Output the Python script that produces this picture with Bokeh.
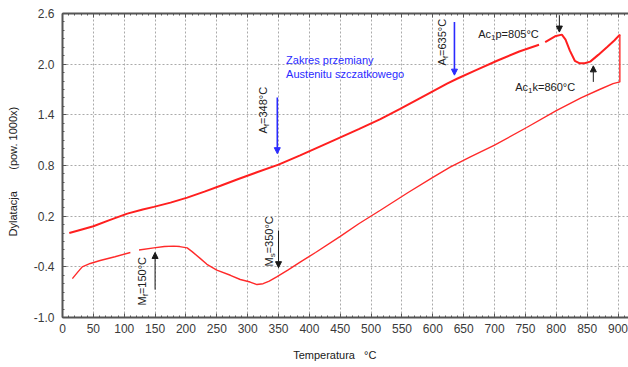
import math
from bokeh.plotting import figure
from bokeh.models import (Range1d, LinearAxis, FixedTicker, PrintfTickFormatter,
                          Label, Arrow, NormalHead, ColumnDataSource, Grid)
from bokeh.embed import file_html
from bokeh.resources import INLINE

nan = float("nan")

# ---- data ----
heat_temp = [11, 30, 50, 75, 105, 130, 148, 175, 202, 230, 256, 285, 315, 350, 385, 434, 480, 515, 547, 590,
             623, 640, 670, 704, 740, 772, nan, 782, 798, 809, 815, 822, 830, 838, 846, 855, 868, 882, 894, 903]
heat_dil = [0.00, 0.04, 0.08, 0.15, 0.23, 0.28, 0.31, 0.36, 0.42, 0.49, 0.56, 0.64, 0.72, 0.81, 0.92, 1.08, 1.23, 1.35, 1.47, 1.64,
            1.77, 1.83, 1.93, 2.04, 2.15, 2.23, nan, 2.26, 2.33, 2.35, 2.29, 2.16, 2.04, 2.01, 2.01, 2.03, 2.11, 2.20, 2.28, 2.35]

cool_temp = [903, 903, 892, 870, 840, 800, 752, 700, 660, 628, 600, 560, 515, 480, 450, 410, 385, 365, 347, 335,
             325, 315, 304, 288, 272, 250, 234, 223, 210, 202, 190, 180, 165, 148, 124, nan, 110, 85, 61, 45,
             32, 25, 16]
cool_dil = [2.35, 1.79, 1.77, 1.70, 1.60, 1.45, 1.25, 1.04, 0.90, 0.78, 0.66, 0.48, 0.27, 0.11, -0.04, -0.23, -0.345, -0.44, -0.52, -0.57,
            -0.60, -0.61, -0.58, -0.55, -0.50, -0.44, -0.37, -0.30, -0.22, -0.175, -0.16, -0.155, -0.16, -0.175, -0.20, nan, -0.23, -0.28, -0.325, -0.36,
            -0.40, -0.46, -0.54]

x_ticks = list(range(0, 901, 50))
x_minor = list(range(0, 918, 10))
y_ticks = [-1.0, -0.4, 0.2, 0.8, 1.4, 2.0, 2.6]
y_minor = [round(-1.0 + 0.1 * i, 1) for i in range(37)]

# annotation temperatures
t_af1, t_af2, t_ac1p, t_ac1k, t_ms, t_mf = 348, 635, 805, 860, 350, 150

FONT = "Liberation Sans"
AXC = "#555555"
NB = "\u00a0"

p = figure(width=628, height=367, x_range=Range1d(0, 917), y_range=Range1d(-1.0, 2.6),
           output_backend="svg", toolbar_location=None,
           min_border_left=62, min_border_right=0, min_border_top=13, min_border_bottom=50)
p.outline_line_color = None
p.background_fill_color = "white"
p.border_fill_color = "white"

xt = FixedTicker(ticks=x_ticks, minor_ticks=x_minor)
yt = FixedTicker(ticks=y_ticks, minor_ticks=y_minor)


def style_axis(ax):
    ax.axis_line_color = AXC
    ax.axis_line_width = 2
    ax.major_tick_line_color = AXC
    ax.minor_tick_line_color = AXC
    ax.major_tick_in = 4
    ax.major_tick_out = 0
    ax.minor_tick_in = 2
    ax.minor_tick_out = 0
    ax.major_label_text_font = FONT
    ax.major_label_text_font_size = "12px"
    ax.major_label_text_color = "#3a3a3a"
    ax.axis_label_text_font = FONT
    ax.axis_label_text_font_size = "11px"
    ax.axis_label_text_font_style = "normal"
    ax.axis_label_text_color = "#202020"


xa = p.xaxis[0]
xa.ticker = xt
style_axis(xa)
xa.major_label_standoff = 6
xa.axis_label = "Temperatura" + NB * 3 + "°C" + NB * 7
xa.axis_label_standoff = 13

ya = p.yaxis[0]
ya.ticker = yt
ya.formatter = PrintfTickFormatter(format="%.1f")
style_axis(ya)
ya.major_label_standoff = 8
ya.axis_label = "Dylatacja" + NB * 7 + "(pow. 1000x)" + NB * 4
ya.axis_label_standoff = 12

top = LinearAxis(ticker=xt)
style_axis(top)
top.major_label_text_font_size = "1px"
top.major_label_text_color = None
top.major_label_standoff = 0
p.add_layout(top, "above")

# grids: replace default ones with explicit grids on the fixed tickers
p.renderers = [r for r in p.renderers if not isinstance(r, Grid)]
p.center = [c for c in p.center if not isinstance(c, Grid)]
for dim, tk in ((0, xt), (1, yt)):
    g = Grid(dimension=dim, ticker=tk, grid_line_color="#aaaaaa", grid_line_dash="2 2",
             grid_line_width=1, level="underlay")
    p.add_layout(g, "center")

# curves
p.line(x="t", y="d", source=ColumnDataSource(dict(t=heat_temp, d=heat_dil)),
       line_color="#ff1f1f", line_width=2)
p.line(x="t", y="d", source=ColumnDataSource(dict(t=cool_temp, d=cool_dil)),
       line_color="#ff2a2a", line_width=1.4)

# ---- annotations ----
W = {"A": 667, "c": 500, "p": 556, "k": 500, "M": 833, "f": 278, "s": 500, "=": 584,
     "°": 400, "C": 722}


def tw(s, size):
    return sum(W.get(ch, 556) for ch in s) * size / 1000.0


def lab(x, y, text, size=11, color="#202020", angle=0.0, dx=0, dy=0, align="left", baseline="middle"):
    p.add_layout(Label(x=x, y=y, text=text, x_offset=dx, y_offset=dy, angle=angle,
                       text_font=FONT, text_font_size=f"{size}px", text_color=color,
                       text_align=align, text_baseline=baseline))


def sub_lab(x, y, main, sub, rest, color="#202020", rotated=False):
    wm = tw(main, 11)
    ws = tw(sub, 8)
    if not rotated:
        lab(x, y, main, color=color)
        lab(x, y, sub, size=8, color=color, dx=wm, dy=-4)
        lab(x, y, rest, color=color, dx=wm + ws)
    else:
        a = math.pi / 2
        lab(x, y, main, color=color, angle=a)
        lab(x, y, sub, size=8, color=color, angle=a, dx=3.5, dy=wm)
        lab(x, y, rest, color=color, angle=a, dy=wm + ws)


BLUE = "#2a2aff"
BLACK = "#1a1a1a"


def arrow(x, y0, y1, color, width):
    p.add_layout(Arrow(x_start=x, y_start=y0, x_end=x, y_end=y1, line_color=color, line_width=width,
                       end=NormalHead(size=6, fill_color=color, line_color=color, line_width=1)))


# blue range text
lab(362.3, 2.055, "Zakres przemiany", color=BLUE)
lab(362.3, 1.889, "Austenitu szczatkowego", color=BLUE)

# blue arrows + rotated labels
arrow(t_af1, 1.605, 0.94, BLUE, 1.6)
sub_lab(325, 1.179, "A", "f", f"={t_af1}°C", rotated=True)
arrow(t_af2, 2.50, 1.87, BLUE, 1.6)
sub_lab(614.7, 1.984, "A", "f", f"={t_af2}°C", rotated=True)

# black arrows
arrow(t_ac1p, 2.58, 2.38, BLACK, 1)
sub_lab(673.5, 2.363, "Ac", "1", f"p={t_ac1p}°C")
arrow(t_ac1k, 1.79, 1.98, BLACK, 1)
sub_lab(733.5, 1.735, "Ac", "1", f"k={t_ac1k}°C")
arrow(t_ms, 0.03, -0.41, BLACK, 1)
sub_lab(334, -0.396, "M", "s", f"={t_ms}°C", rotated=True)
arrow(t_mf, -0.67, -0.23, BLACK, 1)
sub_lab(128.4, -0.858, "M", "f", f"={t_mf}°C", rotated=True)

open("out.html", "w").write(file_html(p, INLINE))
